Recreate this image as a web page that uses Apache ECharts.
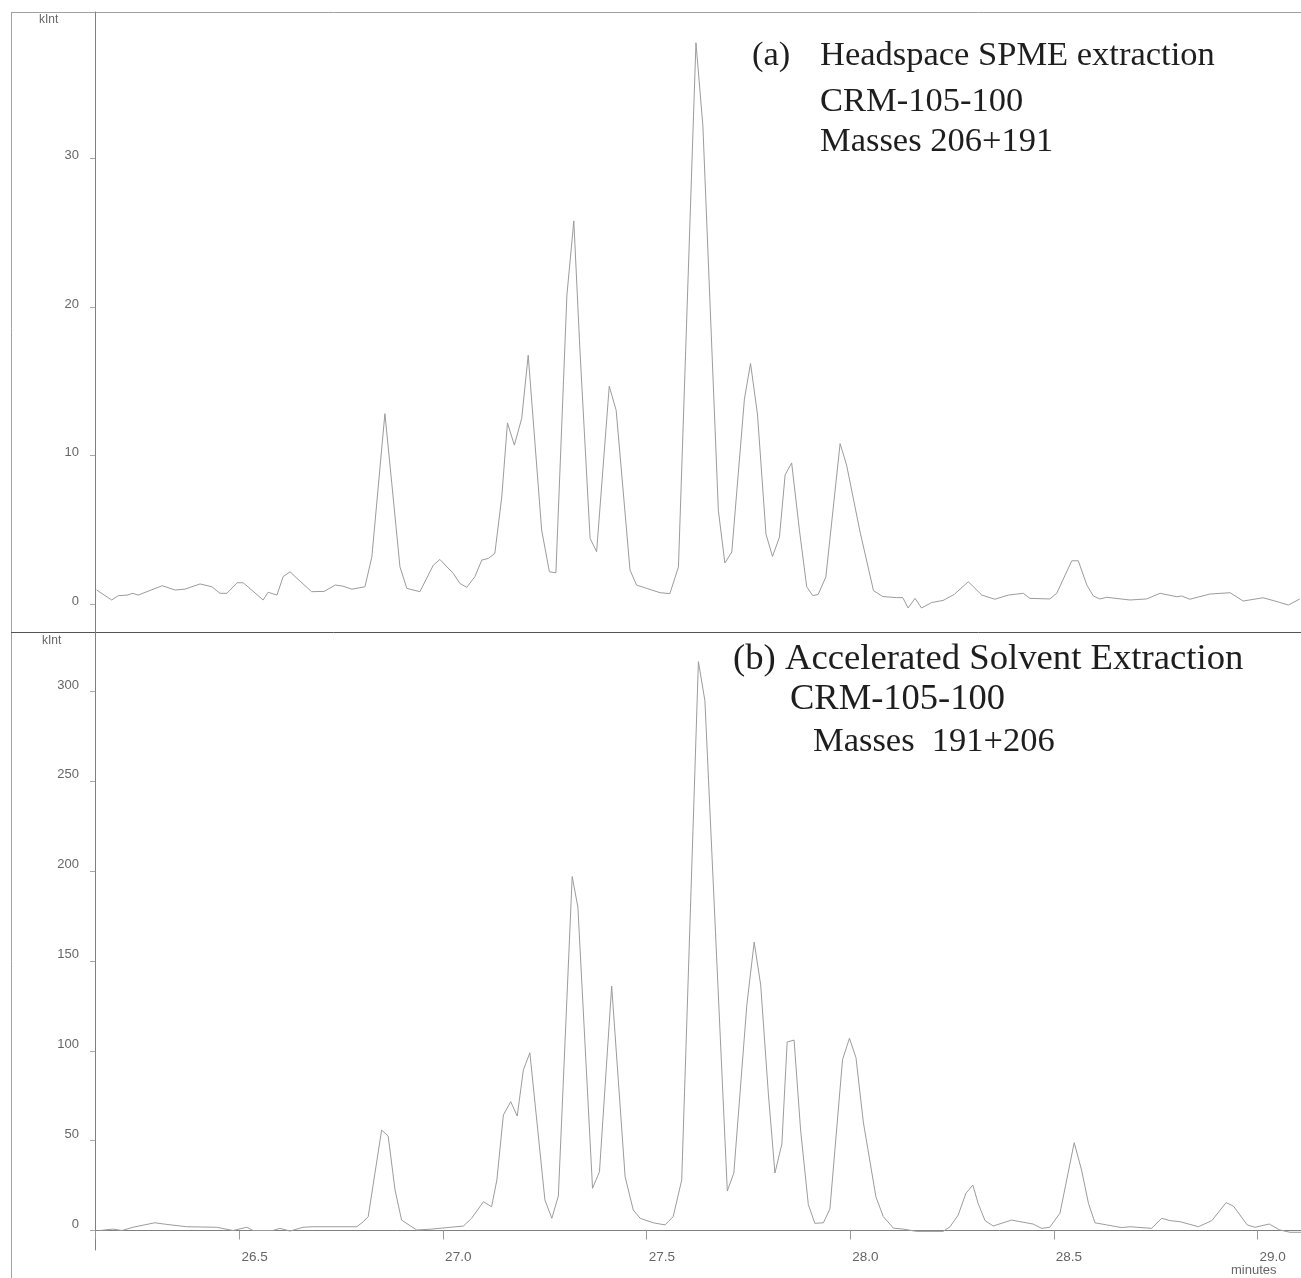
<!DOCTYPE html>
<html>
<head>
<meta charset="utf-8">
<script src="https://cdn.jsdelivr.net/npm/echarts@6/dist/echarts.min.js"></script>
<style>
html,body{margin:0;padding:0;background:#fff;}
#chart{width:1301px;height:1278px;}
</style>
</head>
<body>
<div id="chart"></div>
<script>
// ---- data: panel (a) Headspace SPME extraction ----
const timesA = [26.149,26.186,26.202,26.224,26.238,26.251,26.310,26.342,26.366,26.403,26.432,26.452,26.469,26.494,26.509,26.558,26.570,26.592,26.607,26.624,26.641,26.677,26.708,26.735,26.754,26.776,26.808,26.825,26.857,26.874,26.894,26.911,26.943,26.976,26.992,27.025,27.041,27.058,27.078,27.095,27.111,27.127,27.144,27.158,27.175,27.193,27.209,27.242,27.261,27.277,27.304,27.321,27.336,27.361,27.377,27.408,27.425,27.459,27.475,27.500,27.533,27.557,27.578,27.621,27.638,27.676,27.692,27.709,27.740,27.755,27.772,27.793,27.809,27.826,27.840,27.856,27.875,27.893,27.908,27.921,27.940,27.975,27.991,28.024,28.057,28.080,28.114,28.129,28.142,28.159,28.175,28.200,28.228,28.255,28.290,28.323,28.355,28.388,28.425,28.441,28.490,28.507,28.544,28.560,28.581,28.597,28.613,28.630,28.687,28.728,28.761,28.802,28.814,28.834,28.883,28.933,28.965,29.014,29.043,29.076,29.104];
const kIntA = [0.94,0.27,0.56,0.6,0.72,0.6,1.23,0.94,1.0,1.35,1.16,0.72,0.72,1.43,1.43,0.27,0.79,0.6,1.84,2.17,1.73,0.83,0.85,1.28,1.2,1.0,1.16,3.18,12.82,8.1,2.5,1.05,0.83,2.62,3.0,2.06,1.39,1.12,1.84,2.96,3.07,3.41,7.2,12.2,10.7,12.5,16.75,4.98,2.17,2.1,20.8,25.8,17.1,4.42,3.52,14.66,13.05,2.29,1.28,1.05,0.76,0.7,2.5,37.8,32.2,6.3,2.76,3.5,13.8,16.2,12.8,4.7,3.2,4.5,8.7,9.5,5.0,1.16,0.56,0.64,1.82,10.8,9.35,4.86,0.9,0.5,0.43,0.43,-0.27,0.38,-0.27,0.1,0.24,0.64,1.5,0.6,0.32,0.6,0.72,0.38,0.34,0.72,2.91,2.91,1.28,0.54,0.34,0.45,0.27,0.34,0.72,0.49,0.54,0.32,0.67,0.76,0.2,0.42,0.2,-0.07,0.34];

// ---- data: panel (b) Accelerated Solvent Extraction ----
const timesB = [26.157,26.189,26.211,26.238,26.292,26.321,26.370,26.444,26.484,26.518,26.533,26.582,26.599,26.624,26.656,26.680,26.788,26.804,26.816,26.849,26.865,26.882,26.898,26.935,26.968,27.050,27.070,27.099,27.119,27.132,27.148,27.166,27.182,27.197,27.213,27.250,27.267,27.283,27.317,27.331,27.367,27.384,27.414,27.447,27.467,27.484,27.516,27.545,27.565,27.586,27.627,27.643,27.698,27.714,27.746,27.764,27.780,27.799,27.815,27.832,27.845,27.862,27.878,27.897,27.913,27.934,27.950,27.981,27.998,28.014,28.032,28.063,28.081,28.106,28.130,28.163,28.228,28.245,28.265,28.284,28.301,28.314,28.331,28.351,28.396,28.449,28.470,28.490,28.515,28.550,28.568,28.585,28.601,28.630,28.667,28.687,28.740,28.765,28.785,28.810,28.855,28.888,28.923,28.941,28.975,28.994,29.029,29.055,29.080,29.107];
const kIntB = [0,0.8,0,1.8,4.3,3.4,2.1,1.8,0,1.8,0,0,1.2,-0.3,1.8,2.1,2.1,4.9,7.7,55.9,52.6,22.5,5.8,0.3,0.7,2.5,6.8,16,13.2,28.1,64.3,71.7,63.7,89.3,98.9,17,6.8,19.2,197,180,23.5,32.7,136,29.9,11.4,6.8,4.3,3.1,7.7,28.1,316.6,294.8,22,32,125.6,160.5,136.6,75.5,32,48.1,104.9,106,55.9,14.4,4,4.3,12,95.1,107,96.2,60.4,18.7,7.8,1.3,0.8,-0.5,-0.5,2.1,8.6,20.7,25.3,15.1,5.5,2.5,5.8,3.6,1.2,1.8,9.6,48.9,33.7,15.1,4.3,3.1,1.6,2.1,1.2,6.8,5.5,4.9,2.1,5.5,15.5,13.6,3.1,1.8,3.6,0.3,-1,-1];

// ---- tick labels ----
const xTickValues = [26.5, 27.0, 27.5, 28.0, 28.5, 29.0];
const yTicksA = [0, 10, 20, 30];
const yTicksB = [0, 50, 100, 150, 200, 250, 300];

const X_MIN = 26.145, X_MAX = 29.107;

const chart = echarts.init(document.getElementById('chart'), null, {renderer:'canvas'});
const sans = '"Liberation Sans", Arial, sans-serif';
const serif = '"Liberation Serif", "Times New Roman", serif';
const axisGray = '#808080';
const lineGray = '#9c9c9c';
const textDark = '#1e1e1e';

function yAxisFor(gi, min, max, ticks, lh) {
  return {
    type:'value', gridIndex:gi, min:min, max:max,
    axisLine:{show:true, lineStyle:{color:axisGray, width:1}},
    axisTick:{show:true, customValues:ticks, length:5, inside:false, lineStyle:{color:'#aaa'}},
    axisLabel:{show:true, customValues:ticks, margin:16, color:'#666', fontSize:13, fontFamily:sans,
               verticalAlign:'bottom', lineHeight:lh},
    splitLine:{show:false}
  };
}

const option = {
  animation:false,
  backgroundColor:'#ffffff',
  grid:[
    {left:95, top:12, width:1206, height:620},
    {left:95, top:632, width:1206, height:618}
  ],
  xAxis:[
    {type:'value', gridIndex:0, min:X_MIN, max:X_MAX,
     axisLine:{show:false}, axisTick:{show:false}, axisLabel:{show:false}, splitLine:{show:false}},
    {type:'value', gridIndex:1, min:X_MIN, max:X_MAX,
     axisLine:{show:true, lineStyle:{color:axisGray, width:1}},
     axisTick:{show:true, customValues:[X_MIN].concat(xTickValues), length:9, lineStyle:{color:'#999'}},
     axisLabel:{show:true, customValues:xTickValues, formatter:v=>v.toFixed(1), align:'left',
                verticalAlign:'top', margin:0, padding:[0,0,0,2], color:'#666', fontSize:13.5, fontFamily:sans},
     splitLine:{show:false}}
  ],
  yAxis:[
    yAxisFor(0, -1.886, 39.87, yTicksA, 6),
    yAxisFor(1, -10.85, 333.1, yTicksB, 13)
  ],
  series:[
    {type:'line', xAxisIndex:0, yAxisIndex:0, data:timesA.map((t,i)=>[t,kIntA[i]]),
     showSymbol:false, symbol:'none', smooth:false, lineStyle:{color:lineGray, width:1}},
    {type:'line', xAxisIndex:1, yAxisIndex:1, data:timesB.map((t,i)=>[t,kIntB[i]]),
     showSymbol:false, symbol:'none', smooth:false, lineStyle:{color:lineGray, width:1}}
  ],
  graphic:[
    // frame lines
    {type:'line', shape:{x1:11, y1:12.5, x2:1301, y2:12.5}, style:{stroke:'#a0a0a0', lineWidth:1}},
    {type:'line', shape:{x1:11.5, y1:12, x2:11.5, y2:1278}, style:{stroke:'#a0a0a0', lineWidth:1}},
    {type:'line', shape:{x1:11, y1:632.5, x2:1301, y2:632.5}, style:{stroke:'#555', lineWidth:1}},
    // unit labels
    {type:'text', left:39, top:14, style:{text:'kInt', font:'12px '+sans, fill:'#666'}},
    {type:'text', left:42, top:635, style:{text:'kInt', font:'12px '+sans, fill:'#666'}},
    {type:'text', left:1231, top:1264, style:{text:'minutes', font:'13px '+sans, fill:'#666'}},
    // annotations (a)
    {type:'text', left:752, top:38, style:{text:'(a)', font:'34.5px '+serif, fill:textDark}},
    {type:'text', left:820, top:38, style:{text:'Headspace SPME extraction', font:'34.5px '+serif, fill:textDark}},
    {type:'text', left:820, top:84, style:{text:'CRM-105-100', font:'34.5px '+serif, fill:textDark}},
    {type:'text', left:820, top:124, style:{text:'Masses 206+191', font:'34.5px '+serif, fill:textDark}},
    // annotations (b)
    {type:'text', left:733, top:641, style:{text:'(b) Accelerated Solvent Extraction', font:'36.7px '+serif, fill:textDark}},
    {type:'text', left:790, top:681, style:{text:'CRM-105-100', font:'36.5px '+serif, fill:textDark}},
    {type:'text', left:813, top:724, style:{text:'Masses  191+206', font:'34.5px '+serif, fill:textDark}}
  ]
};
chart.setOption(option);
</script>
</body>
</html>
